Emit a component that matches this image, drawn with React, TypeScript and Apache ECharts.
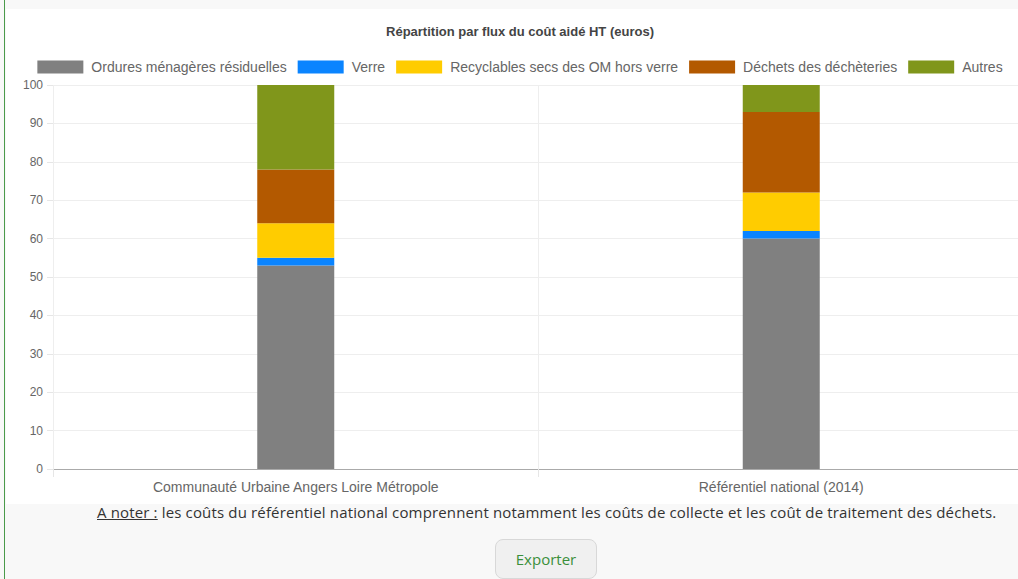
import React, { useEffect, useRef } from "react";
import * as echarts from "echarts";

const categories = ["Communauté Urbaine Angers Loire Métropole", "Référentiel national (2014)"];
const seriesNames = [
  "Ordures ménagères résiduelles",
  "Verre",
  "Recyclables secs des OM hors verre",
  "Déchets des déchèteries",
  "Autres",
];
const seriesColors = ["#808080", "#0a84ff", "#ffcc00", "#b35900", "#80961b"];
const ordures = [53, 60];
const verre = [2, 2];
const recyclables = [9, 10];
const decheteries = [14, 21];
const autres = [22, 7];
const seriesValues = [ordures, verre, recyclables, decheteries, autres];
const yTicks = [0, 10, 20, 30, 40, 50, 60, 70, 80, 90, 100];

export default function App() {
  const ref = useRef<HTMLDivElement>(null);
  useEffect(() => {
    if (!ref.current) return;
    const chart = echarts.init(ref.current, null, { renderer: "svg" });
    chart.setOption({
      animation: false,
      textStyle: { fontFamily: "Liberation Sans, Arial, sans-serif" },
      title: {
        text: "Répartition par flux du coût aidé HT (euros)",
        left: "center",
        top: 10,
        textStyle: { fontSize: 13, fontWeight: "bold", color: "#444", fontFamily: "Liberation Sans, Arial, sans-serif" },
      },
      legend: {
        top: 45,
        left: "center",
        itemWidth: 46,
        itemHeight: 13,
        itemGap: 11,
        icon: "rect",
        textStyle: { fontSize: 14, color: "#666", padding: [0, 0, 0, 3] },
        data: seriesNames,
      },
      grid: { left: 45, right: 8, top: 75, bottom: 31, containLabel: false },
      xAxis: {
        type: "category",
        data: categories,
        axisLine: { lineStyle: { color: "#aaa" } },
        axisTick: { show: true, length: 8, lineStyle: { color: "#e6e6e6" } },
        axisLabel: { color: "#666", fontSize: 14, margin: 11 },
        splitLine: { show: true, lineStyle: { color: "#eeeeee" } },
      },
      yAxis: {
        type: "value",
        min: 0,
        max: 100,
        interval: 10,
        axisLine: { show: false },
        axisTick: { show: true, length: 6, lineStyle: { color: "#e6e6e6" } },
        axisLabel: {
          color: "#666",
          fontSize: 12,
          margin: 10,
          formatter: (v: number) => (yTicks.includes(v) ? String(v) : ""),
        },
        splitLine: { show: true, lineStyle: { color: "#eeeeee" } },
      },
      series: seriesNames.map((name, i) => ({
        name,
        type: "bar",
        stack: "total",
        barWidth: 77,
        itemStyle: { color: seriesColors[i] },
        data: seriesValues[i],
      })),
    });
    return () => chart.dispose();
  }, []);

  return (
    <div
      style={{
        position: "fixed",
        inset: 0,
        overflow: "hidden",
        background: "#f8f8f8",
        fontFamily: "Open Sans, DejaVu Sans, sans-serif",
      }}
    >
      <div style={{ position: "absolute", left: 4, top: 0, bottom: 0, width: 1, background: "#4a9a4a" }} />
      <div style={{ position: "absolute", left: 6, top: 9, width: 1030, height: 495, background: "#ffffff" }} />
      <div ref={ref} style={{ position: "absolute", left: 8, top: 10, width: 1024, height: 490 }} />
      <div
        style={{
          position: "absolute",
          left: 97,
          top: 502,
          fontSize: 15,
          letterSpacing: 0.15,
          color: "#333",
          whiteSpace: "nowrap",
        }}
      >
        <span style={{ textDecoration: "underline" }}>A noter :</span> les coûts du référentiel national comprennent
        notamment les coûts de collecte et les coût de traitement des déchets.
      </div>
      <div
        style={{
          position: "absolute",
          left: 495,
          top: 539,
          width: 102,
          height: 40,
          borderRadius: 8,
          border: "1px solid #d8d8d8",
          background: "#f0f0f0",
          color: "#3a8f3a",
          fontSize: 15,
          display: "flex",
          alignItems: "center",
          justifyContent: "center",
          boxSizing: "border-box",
        }}
      >
        Exporter
      </div>
    </div>
  );
}
